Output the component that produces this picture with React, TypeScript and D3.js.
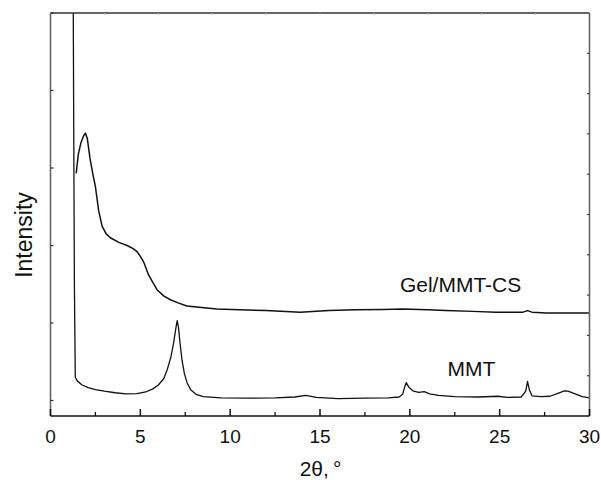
import React, { useEffect, useRef } from 'react';
import * as d3 from 'd3';

// MMT pattern (2θ in degrees, intensity in arbitrary units)
const mmtTheta = [1.22, 1.24, 1.33, 1.38, 1.5, 1.76, 2.1, 2.5, 3.0, 3.6, 4.2, 4.8, 5.3, 5.7, 6.0, 6.3, 6.5, 6.7, 6.85, 6.97, 7.05, 7.12, 7.22, 7.32, 7.45, 7.6, 7.8, 8.1, 8.5, 9.5, 11, 12.5, 13.6, 14.2, 14.8, 16, 17.5, 18.8, 19.4, 19.6, 19.72, 19.8, 19.95, 20.2, 20.5, 20.8, 21.1, 21.6, 22.5, 23.8, 24.9, 25.4, 26.2, 26.45, 26.55, 26.65, 26.8, 27.3, 27.8, 28.2, 28.6, 28.8, 29.2, 29.6, 30];
const mmtIntensity = [7.5, 6.5, 1.5, 0.3, 0.25, 0.2, 0.165, 0.14, 0.12, 0.1, 0.085, 0.09, 0.11, 0.15, 0.2, 0.28, 0.4, 0.56, 0.74, 0.92, 1.03, 0.95, 0.72, 0.52, 0.35, 0.23, 0.14, 0.08, 0.05, 0.035, 0.03, 0.035, 0.045, 0.065, 0.04, 0.025, 0.03, 0.035, 0.045, 0.08, 0.18, 0.23, 0.17, 0.12, 0.105, 0.115, 0.085, 0.065, 0.05, 0.045, 0.055, 0.04, 0.045, 0.12, 0.245, 0.14, 0.06, 0.05, 0.055, 0.09, 0.125, 0.12, 0.085, 0.05, 0.035];

// Gel/MMT-CS pattern
const gelTheta = [1.43, 1.55, 1.7, 1.85, 1.94, 2.05, 2.2, 2.35, 2.5, 2.68, 2.87, 3.1, 3.33, 3.8, 4.26, 4.6, 4.82, 5.0, 5.18, 5.46, 5.7, 5.93, 6.3, 6.67, 7.1, 7.59, 8.4, 9.26, 10.5, 12, 13.9, 15.5, 17, 18.5, 19.6, 21, 22, 23.5, 24.8, 26.3, 26.55, 26.8, 27.6, 29, 30];
const gelIntensity = [2.93, 3.18, 3.33, 3.42, 3.45, 3.38, 3.12, 2.93, 2.76, 2.45, 2.25, 2.15, 2.1, 2.04, 2.0, 1.96, 1.92, 1.86, 1.79, 1.62, 1.52, 1.43, 1.35, 1.3, 1.26, 1.22, 1.2, 1.18, 1.17, 1.16, 1.14, 1.16, 1.17, 1.175, 1.18, 1.17, 1.16, 1.15, 1.14, 1.14, 1.16, 1.14, 1.13, 1.13, 1.13];

const xTicks = [0, 5, 10, 15, 20, 25, 30];
const xMinorTicks = [2.5, 7.5, 12.5, 17.5, 22.5, 27.5];
const yTicks = [0, 1, 2, 3, 4, 5];
const frameTicks = [1, 2, 3, 4, 5, 6, 7, 8, 9];
const seriesNames = ['Gel/MMT-CS', 'MMT'];

const W = 601;
const H = 480;
const margin = { top: 13, right: 11.5, bottom: 64, left: 50.5 };
const font = '"Liberation Sans", Arial, Helvetica, sans-serif';

const App = () => {
  const svgRef = useRef<SVGSVGElement>(null);

  useEffect(() => {
    const svg = d3.select(svgRef.current);
    svg.selectAll('*').remove();

    const width = W - margin.left - margin.right;
    const height = H - margin.top - margin.bottom;

    const x = d3.scaleLinear().domain([0, 30]).range([0, width]);
    const y = d3.scaleLinear().domain([-0.2, 5]).range([height, 0]);
    // top and right frames carry ten even divisions
    const xf = d3.scaleLinear().domain([0, 10]).range([0, width]);
    const yf = d3.scaleLinear().domain([0, 10]).range([height, 0]);

    const g = svg.append('g').attr('transform', `translate(${margin.left},${margin.top})`);

    g.append('clipPath').attr('id', 'plot-clip')
      .append('rect').attr('x', 0).attr('y', 0).attr('width', width).attr('height', height);

    // Curves
    const series = [
      { name: seriesNames[0], theta: gelTheta, values: gelIntensity, w: 1.5 },
      { name: seriesNames[1], theta: mmtTheta, values: mmtIntensity, w: 1.3 },
    ];

    const path = d3.line<[number, number]>()
      .x(d => x(d[0]))
      .y(d => y(d[1]));

    series.forEach(s => {
      const pts = s.theta.map((t, i) => [t, s.values[i]] as [number, number]);
      g.append('path')
        .attr('clip-path', 'url(#plot-clip)')
        .attr('d', path(pts))
        .attr('fill', 'none')
        .attr('stroke', '#111')
        .attr('stroke-width', s.w)
        .attr('stroke-linejoin', 'round');
    });

    // Frame
    const frame = g.append('g').attr('fill', 'none');
    frame.append('line').attr('x1', 0).attr('x2', width).attr('y1', 0).attr('y2', 0).attr('stroke', '#333').attr('stroke-width', 1.3);
    frame.append('line').attr('x1', 0).attr('x2', width).attr('y1', height).attr('y2', height).attr('stroke', '#111').attr('stroke-width', 1.5);
    frame.append('line').attr('x1', 0).attr('x2', 0).attr('y1', 0).attr('y2', height).attr('stroke', '#666').attr('stroke-width', 1.6);
    frame.append('line').attr('x1', width).attr('x2', width).attr('y1', 0).attr('y2', height).attr('stroke', '#666').attr('stroke-width', 1.6);

    // Bottom ticks (inward)
    g.selectAll('.xmaj').data(xTicks).enter().append('line')
      .attr('x1', d => x(d)).attr('x2', d => x(d))
      .attr('y1', height).attr('y2', height - 7)
      .attr('stroke', '#111').attr('stroke-width', 1.5);
    g.selectAll('.xmin').data(xMinorTicks).enter().append('line')
      .attr('x1', d => x(d)).attr('x2', d => x(d))
      .attr('y1', height).attr('y2', height - 4)
      .attr('stroke', '#111').attr('stroke-width', 1.3);

    // Left ticks
    g.selectAll('.ytk').data(yTicks).enter().append('line')
      .attr('x1', 0).attr('x2', 3)
      .attr('y1', d => y(d)).attr('y2', d => y(d))
      .attr('stroke', '#333').attr('stroke-width', 1.2);

    // Right and top ticks
    g.selectAll('.rtk').data(frameTicks).enter().append('line')
      .attr('x1', width).attr('x2', width - 2.5)
      .attr('y1', d => yf(d)).attr('y2', d => yf(d))
      .attr('stroke', '#444').attr('stroke-width', 1.2);
    g.selectAll('.ttk').data(frameTicks).enter().append('line')
      .attr('x1', d => xf(d)).attr('x2', d => xf(d))
      .attr('y1', 0).attr('y2', 2)
      .attr('stroke', '#bbb').attr('stroke-width', 1);

    // Tick labels
    g.selectAll('.xlab').data(xTicks).enter().append('text')
      .attr('x', d => x(d))
      .attr('y', height + 27)
      .attr('text-anchor', 'middle')
      .style('font-family', font)
      .style('font-size', '19px')
      .style('fill', '#111')
      .text(d => d);

    // Axis titles
    const xt = g.append('text')
      .attr('x', width / 2 + 0.5)
      .attr('y', height + 60)
      .attr('text-anchor', 'middle')
      .style('font-family', font)
      .style('font-size', '21px')
      .style('fill', '#111');
    xt.append('tspan').text('2θ,');
    xt.append('tspan').attr('dx', 4).text('°');

    svg.append('text')
      .attr('transform', `translate(32,235) rotate(-90)`)
      .attr('text-anchor', 'middle')
      .style('font-family', font)
      .style('font-size', '23px')
      .style('fill', '#111')
      .text('Intensity');

    // Series labels
    const labelAnchors = [
      { theta: 19.45, value: 1.4 },
      { theta: 22.1, value: 0.32 },
    ];
    seriesNames.forEach((n, i) => {
      g.append('text')
        .attr('x', x(labelAnchors[i].theta))
        .attr('y', y(labelAnchors[i].value))
        .style('font-family', font)
        .style('font-size', '21px')
        .style('fill', '#111')
        .text(n);
    });
  }, []);

  return (
    <div style={{ position: 'absolute', left: 0, top: 0, width: W, height: H, background: '#fff' }}>
      <svg ref={svgRef} width={W} height={H} style={{ display: 'block' }} />
    </div>
  );
};

export default App;
